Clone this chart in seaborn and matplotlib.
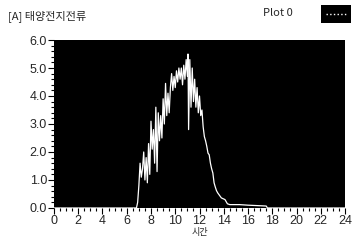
import numpy as np
import pandas as pd
import matplotlib
matplotlib.use("Agg")
import matplotlib.pyplot as plt
import seaborn as sns
from matplotlib.ticker import MultipleLocator

hours = [0.0, 6.8, 6.9, 7.0, 7.1, 7.2, 7.3, 7.4, 7.5, 7.6, 7.7, 7.8, 7.9,
         8.0, 8.1, 8.2, 8.3, 8.4, 8.5, 8.6, 8.7, 8.8, 8.9,
         9.0, 9.1, 9.2, 9.3, 9.4, 9.5, 9.6, 9.7, 9.8, 9.9,
         10.0, 10.1, 10.2, 10.3, 10.4, 10.5, 10.6, 10.7, 10.8, 10.9,
         11.0, 11.05, 11.1, 11.2, 11.3, 11.4, 11.5, 11.6, 11.7, 11.8, 11.9,
         12.0, 12.1, 12.2, 12.3, 12.4, 12.5, 12.6, 12.7, 12.8, 12.9,
         13.0, 13.1, 13.2, 13.3, 13.4, 13.5, 13.65, 13.8, 14.1, 14.3,
         14.5, 15.3, 16.0, 17.0, 17.5, 17.6, 24.0]
current = [0.0, 0.0, 0.2, 0.8, 1.6, 1.1, 1.4, 2.0, 1.0, 1.8, 0.9, 2.3, 1.2,
           3.1, 2.1, 2.8, 1.6, 3.6, 1.3, 3.4, 2.4, 3.3, 2.5,
           3.9, 3.0, 4.45, 3.3, 4.1, 3.4, 4.3, 4.8, 4.2, 4.7,
           4.3, 4.9, 4.5, 5.0, 4.6, 5.0, 4.4, 5.1, 4.6, 5.3,
           4.7, 5.5, 2.8, 5.3, 3.6, 5.0, 3.8, 4.6, 3.6, 4.3, 3.4,
           4.0, 3.3, 3.5, 2.9, 2.55, 2.4, 2.2, 1.96, 1.9, 1.6,
           1.4, 1.25, 0.9, 0.75, 0.62, 0.54, 0.45, 0.36, 0.3, 0.15,
           0.12, 0.12, 0.1, 0.08, 0.07, 0.0, 0.0]

title_text = "[A] 태양전지전류"
legend_text = "Plot 0"
xlabel_text = "시간"
xticks = list(range(0, 25, 2))
yticks = [0.0, 1.0, 2.0, 3.0, 4.0, 5.0, 6.0]

sns.set_style("white")
plt.rcParams['font.family'] = ['Noto Sans CJK KR', 'DejaVu Sans']

df = pd.DataFrame({"h": hours, "I": current})

fig = plt.figure(figsize=(3.55, 2.41), dpi=100)
ax = fig.add_axes([0.152, 0.137, 0.82, 0.697])
ax.set_facecolor("black")
sns.lineplot(data=df, x="h", y="I", ax=ax, color="white", linewidth=0.9)

tick_font = ['Liberation Sans Narrow', 'Liberation Sans', 'DejaVu Sans']
ax.set_xlim(0, 24)
ax.set_ylim(0, 6)
ax.set_xticks(xticks)
ax.set_xticklabels([str(t) for t in xticks], fontsize=9, family=tick_font)
ax.set_yticks(yticks)
ax.set_yticklabels([f"{v:.1f}" for v in yticks], fontsize=9, family=tick_font)
ax.xaxis.set_minor_locator(MultipleLocator(0.5))
ax.yaxis.set_minor_locator(MultipleLocator(0.2))
ax.tick_params(axis="both", which="major", direction="out", length=4, width=0.8,
               color="black", pad=1, bottom=True, left=True)
ax.tick_params(axis="both", which="minor", direction="out", length=2, width=0.8,
               color="black", bottom=True, left=True)
ax.set_xlabel(xlabel_text, fontsize=6.5, labelpad=0.5)
ax.set_ylabel("")
for s in ax.spines.values():
    s.set_visible(False)

fig.text(0.022, 0.935, title_text, fontsize=8, va="center", ha="left")
fig.text(0.74, 0.945, legend_text, fontsize=8, va="center", ha="left")
# legend swatch
lax = fig.add_axes([0.905, 0.905, 0.085, 0.075])
lax.set_facecolor("black")
lax.plot([0.15, 0.85], [0.5, 0.5], color="white", linestyle=":", linewidth=1)
lax.set_xlim(0, 1); lax.set_ylim(0, 1)
lax.set_xticks([]); lax.set_yticks([])
for s in lax.spines.values():
    s.set_visible(False)

fig.savefig("out.png", dpi=100)
